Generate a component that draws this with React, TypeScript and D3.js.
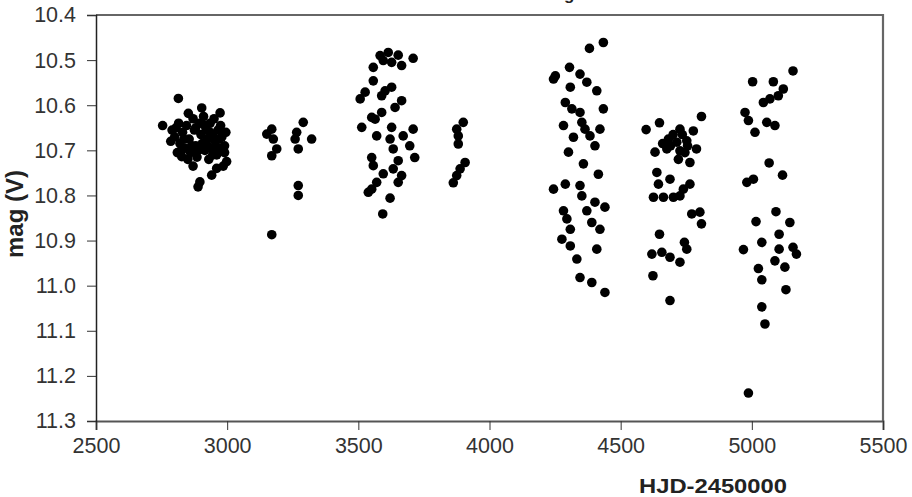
import React, { useEffect, useRef } from 'react';
import * as d3 from 'd3';

const xTicks = [2500, 3000, 3500, 4000, 4500, 5000, 5500];
const yTicks = [10.4, 10.5, 10.6, 10.7, 10.8, 10.9, 11.0, 11.1, 11.2, 11.3];

// observing seasons, HJD-2450000 and V magnitude
const season1Hjd = [2754, 2814, 2852, 2903, 2973, 2827, 2998, 2941, 2896, 2889,
  2790, 2800, 2815, 2820, 2830, 2840, 2845, 2855, 2860, 2870, 2875, 2880, 2885,
  2895, 2900, 2905, 2910, 2915, 2920, 2925, 2930, 2935, 2940, 2945, 2950, 2955,
  2960, 2965, 2970, 2975, 2980, 2985, 2990, 2995, 2960, 2810, 2850, 2870,
  2785, 2805, 2825, 2835, 2865, 2890, 2925, 2945, 2970, 2990, 2880, 2915, 2950, 2935];
const season1Mag = [10.645, 10.585, 10.618, 10.606, 10.617, 10.714, 10.725, 10.755, 10.77, 10.781,
  10.655, 10.67, 10.64, 10.685, 10.66, 10.695, 10.645, 10.675, 10.705, 10.63, 10.655, 10.69, 10.715,
  10.64, 10.665, 10.685, 10.625, 10.7, 10.655, 10.675, 10.72, 10.64, 10.695, 10.665, 10.63, 10.68,
  10.71, 10.655, 10.695, 10.645, 10.67, 10.735, 10.69, 10.66, 10.74, 10.705, 10.72, 10.735,
  10.68, 10.65, 10.7, 10.675, 10.69, 10.7, 10.69, 10.71, 10.675, 10.705, 10.65, 10.645, 10.695, 10.66];

const season2Hjd = [3170, 3151, 3176, 3189, 3170, 3290, 3265, 3259, 3322, 3271, 3271, 3271, 3170];
const season2Mag = [10.653, 10.664, 10.675, 10.697, 10.712, 10.638, 10.66, 10.675, 10.675, 10.697, 10.778, 10.8, 10.887];

const season3Hjd = [3614, 3583, 3652, 3709, 3595, 3557, 3665, 3627, 3557, 3526, 3507, 3602, 3627,
  3589, 3665, 3640, 3589, 3551, 3564, 3513, 3627, 3709, 3570, 3621, 3671, 3633, 3696, 3715, 3551,
  3652, 3557, 3633, 3595, 3665, 3652, 3570, 3551, 3538, 3621, 3593];
const season3Mag = [10.483, 10.49, 10.489, 10.496, 10.501, 10.516, 10.512, 10.505, 10.546, 10.571, 10.586, 10.568, 10.56,
  10.579, 10.59, 10.605, 10.616, 10.627, 10.631, 10.649, 10.649, 10.653, 10.668, 10.675, 10.668, 10.697, 10.69, 10.716, 10.716,
  10.723, 10.734, 10.741, 10.752, 10.756, 10.771, 10.771, 10.786, 10.793, 10.806, 10.841];

const season4Hjd = [3900, 3875, 3881, 3881, 3907, 3888, 3875, 3862];
const season4Mag = [10.638, 10.653, 10.668, 10.686, 10.727, 10.741, 10.756, 10.772];

const season5Hjd = [4434, 4381, 4305, 4251, 4244, 4345, 4371, 4409, 4308, 4289, 4314, 4434, 4345, 4282,
  4352, 4364, 4421, 4320, 4383, 4402, 4301, 4358, 4415, 4244, 4289, 4345, 4352, 4402, 4440, 4282, 4371,
  4295, 4390, 4421, 4308, 4276, 4308, 4409, 4333, 4345, 4390, 4440];
const season5Mag = [10.461, 10.474, 10.516, 10.535, 10.542, 10.531, 10.549, 10.568, 10.56, 10.594, 10.608, 10.608, 10.616, 10.645,
  10.638, 10.653, 10.653, 10.671, 10.668, 10.69, 10.704, 10.73, 10.753, 10.786, 10.775, 10.778, 10.801, 10.815, 10.826, 10.834, 10.834,
  10.852, 10.86, 10.875, 10.875, 10.897, 10.912, 10.919, 10.941, 10.982, 10.993, 11.015];

const season6Hjd = [4597, 4648, 4808, 4726, 4777, 4682, 4714, 4752, 4789, 4631, 4676, 4726, 4764, 4638,
  4688, 4644, 4764, 4739, 4625, 4663, 4701, 4726, 4771, 4802, 4808, 4648, 4743, 4752, 4619, 4657, 4688,
  4726, 4623, 4688, 4700, 4735, 4755, 4690, 4660, 4720, 4745];
const season6Mag = [10.654, 10.639, 10.625, 10.653, 10.657, 10.675, 10.682, 10.679, 10.697, 10.704, 10.697, 10.701, 10.727, 10.749,
  10.764, 10.775, 10.775, 10.786, 10.804, 10.804, 10.804, 10.801, 10.841, 10.837, 10.863, 10.886, 10.904, 10.919, 10.93, 10.926, 10.937,
  10.948, 10.978, 11.033, 10.665, 10.665, 10.69, 10.69, 10.685, 10.72, 10.705];

const season7Hjd = [5157, 5003, 5082, 5120, 5101, 5069, 5044, 4974, 4987, 5057, 5088, 5012, 5066, 5117,
  5006, 4981, 5092, 5016, 5145, 5104, 5038, 4968, 5157, 5104, 5170, 5088, 5126, 5025, 5038, 5130, 5038,
  5050, 4987];
const season7Mag = [10.524, 10.548, 10.548, 10.564, 10.579, 10.586, 10.594, 10.616, 10.634, 10.638, 10.645, 10.66, 10.728, 10.755,
  10.764, 10.771, 10.836, 10.858, 10.86, 10.886, 10.904, 10.92, 10.915, 10.919, 10.93, 10.945, 10.959, 10.962, 10.987, 11.009, 11.047,
  11.085, 11.238];

const seasons = [
  [season1Hjd, season1Mag],
  [season2Hjd, season2Mag],
  [season3Hjd, season3Mag],
  [season4Hjd, season4Mag],
  [season5Hjd, season5Mag],
  [season6Hjd, season6Mag],
  [season7Hjd, season7Mag],
];

const width = 912;
const height = 497;
const left = 96;
const right = 883;
const top = 15;
const bottom = 421;

export default function App() {
  const ref = useRef<SVGSVGElement>(null);

  useEffect(() => {
    const svg = d3.select(ref.current);
    svg.selectAll('*').remove();

    const x = d3.scaleLinear().domain([2500, 5500]).range([left, right]);
    const y = d3.scaleLinear().domain([10.4, 11.3]).range([top, bottom]);
    const font = 'Liberation Sans, Arial, sans-serif';

    svg.append('rect').attr('width', width).attr('height', height).attr('fill', '#fff');

    // title, mostly cut off by the top edge as in the source image
    svg.append('text')
      .attr('x', 556)
      .attr('y', 0)
      .attr('text-anchor', 'middle')
      .style('font-family', font)
      .style('font-size', '17px')
      .style('font-weight', 'bold')
      .attr('fill', '#222')
      .text('Observed light curve');

    // frame: top and right edges
    svg.append('path')
      .attr('d', `M${left},${top}H${right}V${bottom}`)
      .attr('fill', 'none')
      .attr('stroke', '#666')
      .attr('stroke-width', 2.2);

    const xAxis = svg.append('g')
      .attr('transform', `translate(0,${bottom})`)
      .call(d3.axisBottom(x).tickValues(xTicks).tickSize(9).tickPadding(8).tickFormat(d3.format('d')));
    xAxis.select('.domain').attr('stroke', '#555').attr('stroke-width', 2);
    xAxis.selectAll('line').attr('stroke', '#333');
    xAxis.selectAll('text')
      .style('font-family', font)
      .style('font-size', '21.5px')
      .attr('fill', '#333');

    const yAxis = svg.append('g')
      .attr('transform', `translate(${left},0)`)
      .call(d3.axisLeft(y).tickValues(yTicks).tickSize(9).tickPadding(11).tickFormat(d3.format('.1f')));
    yAxis.select('.domain').attr('stroke', '#222').attr('stroke-width', 1.5);
    yAxis.selectAll('line').attr('stroke', '#333');
    yAxis.selectAll('text')
      .style('font-family', font)
      .style('font-size', '21.5px')
      .attr('fill', '#333');

    // points
    const g = svg.append('g');
    seasons.forEach(([hjd, mag]) => {
      g.selectAll(null)
        .data(hjd.map((h, i) => [h, mag[i]]))
        .enter()
        .append('circle')
        .attr('cx', (d) => x(d[0]))
        .attr('cy', (d) => y(d[1]))
        .attr('r', 4.8)
        .attr('fill', '#000');
    });

    // axis titles
    svg.append('text')
      .attr('transform', `translate(23,214) rotate(-90)`)
      .attr('text-anchor', 'middle')
      .style('font-family', font)
      .style('font-size', '24px')
      .style('font-weight', 'bold')
      .attr('fill', '#222')
      .text('mag (V)');

    svg.append('text')
      .attr('x', 713)
      .attr('y', 493)
      .attr('text-anchor', 'middle')
      .attr('textLength', 148)
      .attr('lengthAdjust', 'spacingAndGlyphs')
      .style('font-family', font)
      .style('font-size', '21px')
      .style('font-weight', 'bold')
      .attr('fill', '#222')
      .text('HJD-2450000');
  }, []);

  return (
    <div style={{ position: 'absolute', left: 0, top: 0 }}>
      <svg ref={ref} width={width} height={height} />
    </div>
  );
}
